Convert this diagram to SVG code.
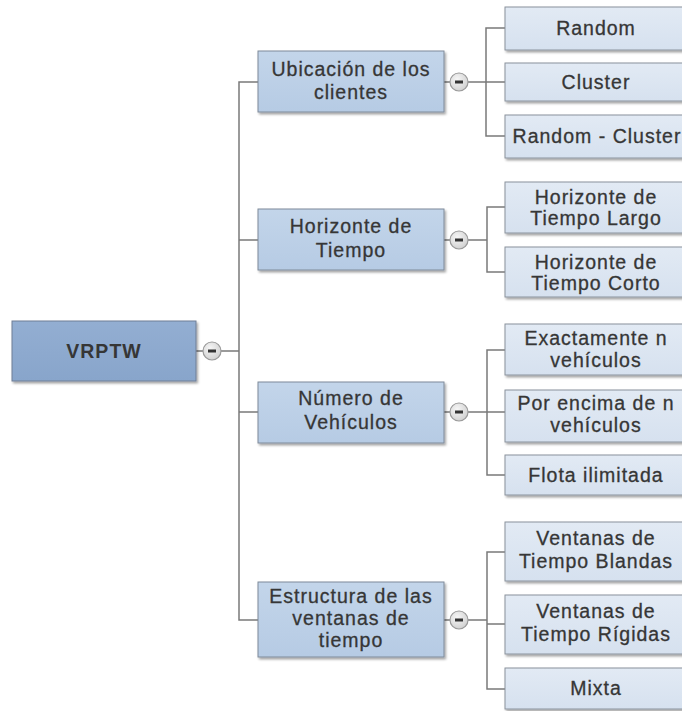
<svg xmlns="http://www.w3.org/2000/svg" width="682" height="711" viewBox="0 0 682 711">
<defs>
  <linearGradient id="gRoot" x1="0" y1="0" x2="0" y2="1">
    <stop offset="0" stop-color="#93aed2"/>
    <stop offset="1" stop-color="#88a5cb"/>
  </linearGradient>
  <linearGradient id="gL1" x1="0" y1="0" x2="0" y2="1">
    <stop offset="0" stop-color="#c3d5ea"/>
    <stop offset="1" stop-color="#b6cbe4"/>
  </linearGradient>
  <linearGradient id="gL2" x1="0" y1="0" x2="0" y2="1">
    <stop offset="0" stop-color="#e2eaf4"/>
    <stop offset="1" stop-color="#d6e1ef"/>
  </linearGradient>
  <radialGradient id="gBtn" cx="0.4" cy="0.35" r="0.7">
    <stop offset="0" stop-color="#f6f6f6"/>
    <stop offset="1" stop-color="#cfcfcf"/>
  </radialGradient>
  <filter id="sh" x="-5%" y="-10%" width="115%" height="130%">
    <feDropShadow dx="1.5" dy="2" stdDeviation="1.2" flood-color="#000" flood-opacity="0.35"/>
  </filter>
  <g id="btn">
    <circle r="9" fill="url(#gBtn)" stroke="#9a9a9a" stroke-width="1.2"/>
    <rect x="-4" y="-1.5" width="8" height="3" fill="#333"/>
  </g>
</defs>
<style>
  .root { fill: url(#gRoot); stroke: #6f7e95; stroke-width: 1; filter: url(#sh); }
  .l1 { fill: url(#gL1); stroke: #7f8a99; stroke-width: 1; filter: url(#sh); }
  .l2 { fill: url(#gL2); stroke: #8a929c; stroke-width: 1; filter: url(#sh); }
  text { font-family: "Liberation Sans", Arial, sans-serif; font-size: 19.5px; fill: #363636; stroke: #363636; stroke-width: 0.3; text-anchor: middle; letter-spacing: 1px; }
  .bold { font-weight: bold; stroke-width: 0; }
  .conn { fill: none; stroke: #7a7a7a; stroke-width: 1.5; }
</style>

<g id="connectors">
  <path class="conn" d="M196 351 H203 M221 351 H239"/>
  <path class="conn" d="M258 82 H239 V620 H258 M239 240 H258 M239 412 H258"/>
  <path class="conn" d="M444 82 H450 M468 82 H505 M505 28 H486 V136 H505"/>
  <path class="conn" d="M444 240 H450 M468 240 H487 M505 207 H487 V272 H505"/>
  <path class="conn" d="M444 412 H450 M468 412 H505 M505 350 H487 V475 H505"/>
  <path class="conn" d="M444 620 H450 M468 620 H487 M505 552 H487 V689 H505 M487 624 H505"/>
</g>

<g id="n-root">
  <rect class="root" x="12" y="321" width="184" height="60"/>
  <text class="bold" x="104" y="358">VRPTW</text>
  <use href="#btn" x="212" y="351"/>
</g>

<g id="n-ubicacion">
  <rect class="l1" x="258" y="51" width="186" height="61"/>
  <text x="351" y="76">Ubicación de los</text>
  <text x="351" y="99">clientes</text>
  <use href="#btn" x="459" y="82"/>
</g>
<g id="n-horizonte">
  <rect class="l1" x="258" y="209" width="186" height="61"/>
  <text x="351" y="233">Horizonte de</text>
  <text x="351" y="257">Tiempo</text>
  <use href="#btn" x="459" y="240"/>
</g>
<g id="n-numero">
  <rect class="l1" x="258" y="382" width="186" height="61"/>
  <text x="351" y="405">Número de</text>
  <text x="351" y="429">Vehículos</text>
  <use href="#btn" x="459" y="412"/>
</g>
<g id="n-estructura">
  <rect class="l1" x="258" y="582" width="186" height="75"/>
  <text x="351" y="603">Estructura de las</text>
  <text x="351" y="625">ventanas de</text>
  <text x="351" y="647">tiempo</text>
  <use href="#btn" x="459" y="620"/>
</g>

<g id="n-random">
  <rect class="l2" x="505" y="7" width="182" height="43"/>
  <text x="596" y="35">Random</text>
</g>
<g id="n-cluster">
  <rect class="l2" x="505" y="63" width="182" height="38"/>
  <text x="596" y="89">Cluster</text>
</g>
<g id="n-random-cluster">
  <rect class="l2" x="505" y="115" width="182" height="43"/>
  <text x="597" y="143">Random - Cluster</text>
</g>

<g id="n-largo">
  <rect class="l2" x="505" y="182" width="182" height="51"/>
  <text x="596" y="204">Horizonte de</text>
  <text x="596" y="225">Tiempo Largo</text>
</g>
<g id="n-corto">
  <rect class="l2" x="505" y="247" width="182" height="50"/>
  <text x="596" y="269">Horizonte de</text>
  <text x="596" y="290">Tiempo Corto</text>
</g>

<g id="n-exact">
  <rect class="l2" x="505" y="324" width="182" height="51"/>
  <text x="596" y="345">Exactamente n</text>
  <text x="596" y="367">vehículos</text>
</g>
<g id="n-encima">
  <rect class="l2" x="505" y="390" width="182" height="52"/>
  <text x="596" y="410">Por encima de n</text>
  <text x="596" y="432">vehículos</text>
</g>
<g id="n-flota">
  <rect class="l2" x="505" y="455" width="182" height="40"/>
  <text x="596" y="482">Flota ilimitada</text>
</g>

<g id="n-blandas">
  <rect class="l2" x="505" y="522" width="182" height="59"/>
  <text x="596" y="545">Ventanas de</text>
  <text x="596" y="568">Tiempo Blandas</text>
</g>
<g id="n-rigidas">
  <rect class="l2" x="505" y="595" width="182" height="59"/>
  <text x="596" y="618">Ventanas de</text>
  <text x="596" y="641">Tiempo Rígidas</text>
</g>
<g id="n-mixta">
  <rect class="l2" x="505" y="668" width="182" height="41"/>
  <text x="596" y="695">Mixta</text>
</g>
</svg>
